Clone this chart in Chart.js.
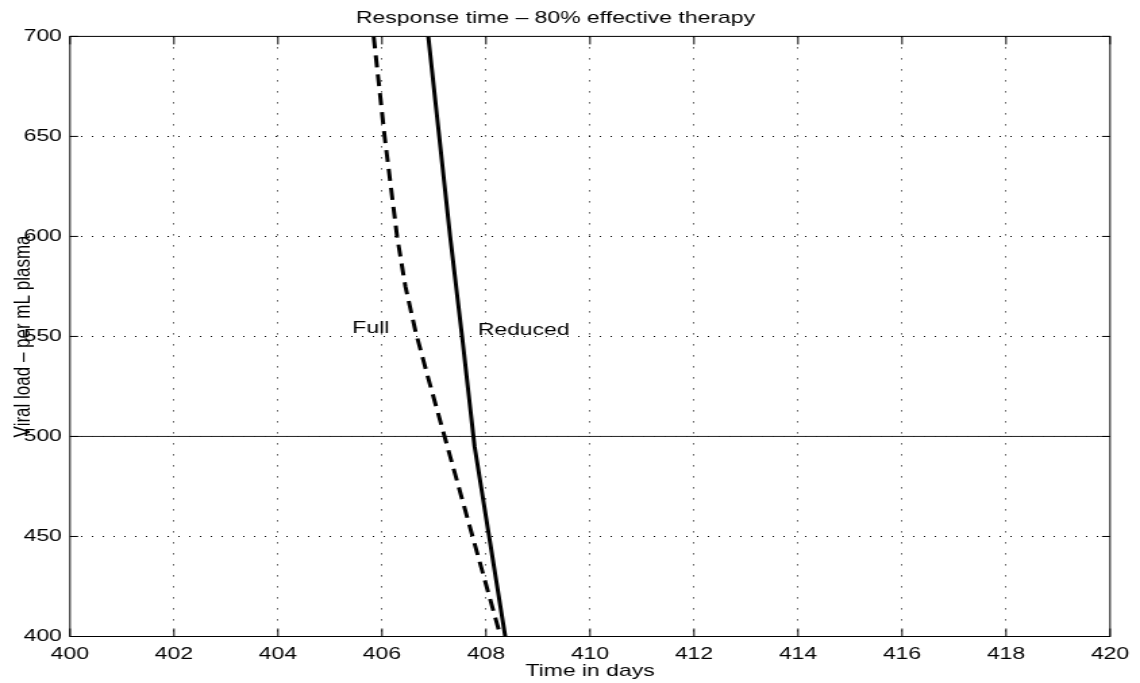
<!DOCTYPE html>
<html>
<head>
<meta charset="utf-8">
<title>Response time</title>
<script src="https://cdn.jsdelivr.net/npm/chart.js@4/dist/chart.umd.min.js"></script>
<style>
  html, body { margin: 0; padding: 0; background: #fff; }
</style>
</head>
<body>
<!-- drawn narrow, shown wide: text and strokes get the wide look -->
<canvas id="chart" width="844" height="683" style="display:block;width:1140px;height:683px"></canvas>
<script>
// viral load curves, days vs copies per mL
const fullTime = [405.84, 406.05, 406.29, 406.45, 406.65, 406.88, 408.28];
const fullLoad = [700, 650, 600, 575, 552, 530, 400];
const reducedTime = [406.89, 407.10, 407.31, 407.54, 407.78, 408.06, 408.37];
const reducedLoad = [700, 650, 600, 550, 495, 450, 400];
const thresholdTime = [400, 420];
const thresholdLoad = [500, 500];

const xTicks = [400, 402, 404, 406, 408, 410, 412, 414, 416, 418, 420];
const yTicks = [400, 450, 500, 550, 600, 650, 700];

const curveNames = ['Full', 'Reduced'];
const nameTime = [405.43, 407.84];
const nameLoad = [554, 553];

const pts = (xs, ys) => xs.map((v, i) => ({ x: v, y: ys[i] }));

Chart.defaults.font.family = '"Liberation Sans", Arial, sans-serif';
Chart.defaults.font.size = 17;
Chart.defaults.color = '#000';

// box, inward tick marks and curve names
const frame = {
    id: 'frame',
    afterDatasetsDraw(chart) {
        const { ctx, chartArea: a, scales: { x, y } } = chart;
        ctx.save();
        ctx.strokeStyle = '#000';
        ctx.lineWidth = 1;
        ctx.strokeRect(a.left, a.top, a.right - a.left, a.bottom - a.top);
        ctx.beginPath();
        x.ticks.forEach(t => {
            const px = x.getPixelForValue(t.value);
            ctx.moveTo(px, a.bottom); ctx.lineTo(px, a.bottom - 8);
            ctx.moveTo(px, a.top); ctx.lineTo(px, a.top + 8);
        });
        y.ticks.forEach(t => {
            const py = y.getPixelForValue(t.value);
            ctx.moveTo(a.left, py); ctx.lineTo(a.left + 6, py);
            ctx.moveTo(a.right, py); ctx.lineTo(a.right - 6, py);
        });
        ctx.stroke();

        ctx.fillStyle = '#000';
        ctx.font = '17px "Liberation Sans", Arial, sans-serif';
        ctx.textAlign = 'left';
        ctx.textBaseline = 'middle';
        curveNames.forEach((name, i) => {
            ctx.fillText(name, x.getPixelForValue(nameTime[i]), y.getPixelForValue(nameLoad[i]));
        });
        ctx.restore();
    }
};

const innerGrid = (min, max) => c => (c.tick && (c.tick.value === min || c.tick.value === max)) ? 'rgba(0,0,0,0)' : '#000';

new Chart(document.getElementById('chart'), {
    type: 'line',
    data: {
        datasets: [
            {
                label: 'Full',
                data: pts(fullTime, fullLoad),
                borderColor: '#000',
                borderWidth: 3,
                borderDash: [12, 7]
            },
            {
                label: 'Reduced',
                data: pts(reducedTime, reducedLoad),
                borderColor: '#000',
                borderWidth: 3
            },
            {
                label: 'Threshold',
                data: pts(thresholdTime, thresholdLoad),
                borderColor: '#222',
                borderWidth: 1
            }
        ]
    },
    options: {
        responsive: false,
        animation: false,
        devicePixelRatio: 1,
        elements: {
            point: { radius: 0 },
            line: { tension: 0 }
        },
        layout: { padding: { left: 0, right: 21.5, top: 0, bottom: 0 } },
        plugins: {
            legend: { display: false },
            tooltip: { enabled: false },
            title: {
                display: true,
                text: 'Response time \u2013 80% effective therapy',
                font: { size: 17, weight: 'normal' },
                color: '#000',
                padding: { top: 8, bottom: 8 }
            }
        },
        scales: {
            x: {
                type: 'linear',
                min: 400,
                max: 420,
                afterBuildTicks: s => { s.ticks = xTicks.map(v => ({ value: v })); },
                afterFit: s => { s.height = 46.5; },
                ticks: { padding: 8, maxRotation: 0, autoSkip: false },
                grid: { color: innerGrid(400, 420), lineWidth: 1, drawTicks: false },
                border: { display: false, dash: [1, 10] },
                title: {
                    display: true,
                    text: 'Time in days',
                    padding: { top: 0, bottom: 1.5 }
                }
            },
            y: {
                min: 400,
                max: 700,
                afterBuildTicks: s => { s.ticks = yTicks.map(v => ({ value: v })); },
                afterFit: s => { s.width = 51.8; },
                ticks: { padding: 6, autoSkip: false },
                grid: { color: innerGrid(400, 700), lineWidth: 1, drawTicks: false },
                border: { display: false, dash: [1, 7] },
                title: {
                    display: true,
                    text: 'Viral load \u2013 per mL plasma',
                    padding: { top: 6.8, bottom: 0 }
                }
            }
        }
    },
    plugins: [frame]
});
</script>
</body>
</html>
